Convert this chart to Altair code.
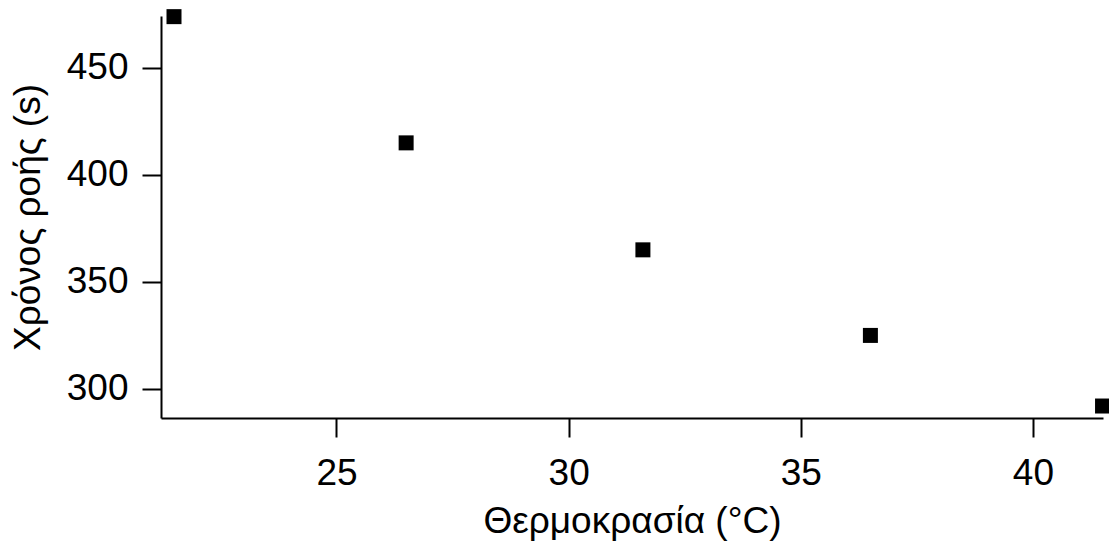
import altair as alt
import pandas as pd

temperature = [21.5, 26.5, 31.6, 36.5, 41.5]
flow_time = [474, 415, 365, 325, 292]

df = pd.DataFrame({"T": temperature, "t": flow_time})

chart = alt.Chart(df).mark_square(size=225, color="black", opacity=1, clip=False).encode(
    x=alt.X("T:Q", scale=alt.Scale(domain=[21.22, 41.51], nice=False, zero=False),
            axis=alt.Axis(title="Θερμοκρασία (°C)", values=[25, 30, 35, 40], grid=False,
                          tickSize=19, labelPadding=18, titlePadding=12)),
    y=alt.Y("t:Q", scale=alt.Scale(domain=[286.4, 474.3], nice=False, zero=False),
            axis=alt.Axis(title="Χρόνος ροής (s)", values=[300, 350, 400, 450], grid=False,
                          tickSize=19, labelPadding=14, titlePadding=19)),
).properties(
    width=942, height=402,
    autosize=alt.AutoSizeParams(type="none"),
    padding={"left": 153, "top": 8, "right": 6, "bottom": 123},
).configure_view(stroke=None).configure_axis(
    domainColor="black", tickColor="black", domainWidth=2, tickWidth=2,
    labelColor="black", titleColor="black",
    labelFont="Liberation Sans", titleFont="Liberation Sans",
    labelFontSize=37, titleFontSize=37, titleFontWeight="normal",
)

chart.save("out.html", embed_options={"renderer": "svg", "actions": False})
